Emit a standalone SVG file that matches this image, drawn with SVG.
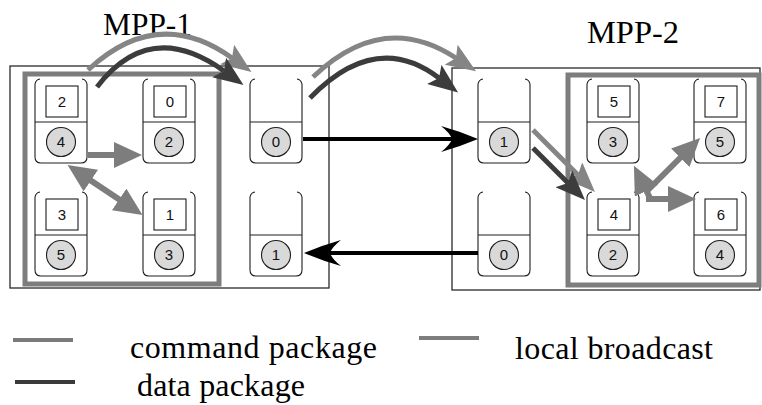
<svg xmlns="http://www.w3.org/2000/svg" width="762" height="405" viewBox="0 0 762 405">
<style>
.outer{fill:none;stroke:#2a2a2a;stroke-width:1.3}
.group{fill:none;stroke:#7d7d7d;stroke-width:5}
.card{fill:#fff;stroke:#1e1e1e;stroke-width:1.1}
.sq{fill:#fff;stroke:#1e1e1e;stroke-width:1.1}
.div{stroke:#1e1e1e;stroke-width:1.1}
.cir{fill:#d9d9d9;stroke:#1e1e1e;stroke-width:1.1}
.num{font-family:'Liberation Sans',Arial,sans-serif;font-size:15px;text-anchor:middle;fill:#111}
.title{font-family:'Liberation Serif','Times New Roman',serif;font-size:31px;fill:#000}
.leg{font-family:'Liberation Serif','Times New Roman',serif;font-size:32px;fill:#000}
.cmd{fill:none;stroke:#858585;stroke-width:5}
.dat{fill:none;stroke:#3c3c3c;stroke-width:5}
.bc{fill:none;stroke:#7d7d7d;stroke-width:6}
.blk{fill:none;stroke:#000;stroke-width:4}
</style>
<defs>
<marker id="hCmd" viewBox="0 0 30 24" markerWidth="30" markerHeight="24" refX="6" refY="12" orient="auto" markerUnits="userSpaceOnUse"><path d="M0,0 L30,12 L0,24 L6,12 z" fill="#858585"/></marker>
<marker id="hDat" viewBox="0 0 30 24" markerWidth="30" markerHeight="24" refX="6" refY="12" orient="auto" markerUnits="userSpaceOnUse"><path d="M0,0 L30,12 L0,24 L6,12 z" fill="#3c3c3c"/></marker>
<marker id="hBc" viewBox="0 0 28 26" markerWidth="28" markerHeight="26" refX="1" refY="13" orient="auto-start-reverse" markerUnits="userSpaceOnUse"><path d="M0,0 L28,13 L0,26 z" fill="#7d7d7d"/></marker>
<marker id="hBlk" viewBox="0 0 37 26" markerWidth="37" markerHeight="26" refX="11" refY="13" orient="auto" markerUnits="userSpaceOnUse"><path d="M37,13 Q18,5 0,0 Q9,7 11,13 Q9,19 0,26 Q18,21 37,13 z" fill="#000"/></marker>
<path id="cardShape" d="M5,0 Q1,0.5 0,5 L0,78 Q0,84 6,84 L46,84 Q52,84 52,78 L52,5 Q51,0.5 47,0"/>
</defs>

<g id="mpp1">
<rect class="outer" x="10" y="66" width="319" height="222"/>
<rect class="group" x="25" y="74" width="194" height="210"/>
<text class="title" x="103" y="35" textLength="89" lengthAdjust="spacingAndGlyphs">MPP-1</text>
</g>
<g id="mpp2">
<rect class="outer" x="452" y="68" width="308" height="222"/>
<rect class="group" x="568" y="75" width="191" height="210"/>
<text class="title" x="587" y="43" textLength="92" lengthAdjust="spacingAndGlyphs">MPP-2</text>
</g>

<g id="n1-a" transform="translate(35,79)"><use href="#cardShape" class="card"/><line class="div" x1="0" y1="43" x2="52" y2="43"/><rect class="sq" x="11" y="7" width="32" height="31"/><text class="num" x="27" y="28">2</text><circle class="cir" cx="26" cy="63" r="14.5"/><text class="num" x="26" y="68">4</text></g>
<g id="n1-b" transform="translate(143,79)"><use href="#cardShape" class="card"/><line class="div" x1="0" y1="43" x2="52" y2="43"/><rect class="sq" x="11" y="7" width="32" height="31"/><text class="num" x="27" y="28">0</text><circle class="cir" cx="26" cy="63" r="14.5"/><text class="num" x="26" y="68">2</text></g>
<g id="n1-c" transform="translate(250,79)"><use href="#cardShape" class="card"/><line class="div" x1="0" y1="43" x2="52" y2="43"/><circle class="cir" cx="26" cy="63" r="14.5"/><text class="num" x="26" y="68">0</text></g>
<g id="n1-d" transform="translate(35,192)"><use href="#cardShape" class="card"/><line class="div" x1="0" y1="43" x2="52" y2="43"/><rect class="sq" x="11" y="7" width="32" height="31"/><text class="num" x="27" y="28">3</text><circle class="cir" cx="26" cy="63" r="14.5"/><text class="num" x="26" y="68">5</text></g>
<g id="n1-e" transform="translate(143,192)"><use href="#cardShape" class="card"/><line class="div" x1="0" y1="43" x2="52" y2="43"/><rect class="sq" x="11" y="7" width="32" height="31"/><text class="num" x="27" y="28">1</text><circle class="cir" cx="26" cy="63" r="14.5"/><text class="num" x="26" y="68">3</text></g>
<g id="n1-f" transform="translate(250,192)"><use href="#cardShape" class="card"/><line class="div" x1="0" y1="43" x2="52" y2="43"/><circle class="cir" cx="26" cy="63" r="14.5"/><text class="num" x="26" y="68">1</text></g>

<g id="n2-a" transform="translate(478,79)"><use href="#cardShape" class="card"/><line class="div" x1="0" y1="43" x2="52" y2="43"/><circle class="cir" cx="26" cy="63" r="14.5"/><text class="num" x="26" y="68">1</text></g>
<g id="n2-b" transform="translate(587,79)"><use href="#cardShape" class="card"/><line class="div" x1="0" y1="43" x2="52" y2="43"/><rect class="sq" x="11" y="7" width="32" height="31"/><text class="num" x="27" y="28">5</text><circle class="cir" cx="26" cy="63" r="14.5"/><text class="num" x="26" y="68">3</text></g>
<g id="n2-c" transform="translate(694,79)"><use href="#cardShape" class="card"/><line class="div" x1="0" y1="43" x2="52" y2="43"/><rect class="sq" x="11" y="7" width="32" height="31"/><text class="num" x="27" y="28">7</text><circle class="cir" cx="26" cy="63" r="14.5"/><text class="num" x="26" y="68">5</text></g>
<g id="n2-d" transform="translate(478,192)"><use href="#cardShape" class="card"/><line class="div" x1="0" y1="43" x2="52" y2="43"/><circle class="cir" cx="26" cy="63" r="14.5"/><text class="num" x="26" y="68">0</text></g>
<g id="n2-e" transform="translate(587,192)"><use href="#cardShape" class="card"/><line class="div" x1="0" y1="43" x2="52" y2="43"/><rect class="sq" x="11" y="7" width="32" height="31"/><text class="num" x="27" y="28">4</text><circle class="cir" cx="26" cy="63" r="14.5"/><text class="num" x="26" y="68">2</text></g>
<g id="n2-f" transform="translate(694,192)"><use href="#cardShape" class="card"/><line class="div" x1="0" y1="43" x2="52" y2="43"/><rect class="sq" x="11" y="7" width="32" height="31"/><text class="num" x="27" y="28">6</text><circle class="cir" cx="26" cy="63" r="14.5"/><text class="num" x="26" y="68">4</text></g>

<g id="connectors">
<path class="cmd" d="M88,70 Q158,5 232,58" marker-end="url(#hCmd)"/>
<path class="dat" d="M97,87 Q150,18 224,71" marker-end="url(#hDat)"/>
<path class="cmd" d="M313,77 Q383,10 456,58" marker-end="url(#hCmd)"/>
<path class="dat" d="M310,98 Q376,30 439,78" marker-end="url(#hDat)"/>
<path class="blk" d="M303,139 L452,139" marker-end="url(#hBlk)"/>
<path class="blk" d="M478,253 L330,253" marker-end="url(#hBlk)"/>
<path class="cmd" d="M533,130 L578,175" marker-end="url(#hCmd)"/>
<path class="dat" d="M533,148 L568,183" marker-end="url(#hDat)"/>
<path class="bc" d="M88,155 L115,155" marker-end="url(#hBc)"/>
<path class="bc" d="M90,180 L120,200" marker-start="url(#hBc)" marker-end="url(#hBc)"/>
<path class="bc" d="M646,199 L669,199" marker-end="url(#hBc)"/>
<path class="bc" d="M646,192 L681,157" marker-end="url(#hBc)"/>
<path class="bc" d="M650,198 L646,190" marker-end="url(#hBc)"/>
</g>

<g id="legend">
<line x1="13" y1="340" x2="73" y2="340" stroke="#7a7a7a" stroke-width="4"/>
<text class="leg" x="130" y="358" textLength="247" lengthAdjust="spacing">command package</text>
<line x1="15" y1="382" x2="75" y2="382" stroke="#3a3a3a" stroke-width="4"/>
<text class="leg" x="137" y="396" textLength="168" lengthAdjust="spacing">data package</text>
<line x1="419" y1="338" x2="479" y2="338" stroke="#7d7d7d" stroke-width="4"/>
<text class="leg" x="515" y="359" textLength="198" lengthAdjust="spacing">local broadcast</text>
</g>
</svg>
